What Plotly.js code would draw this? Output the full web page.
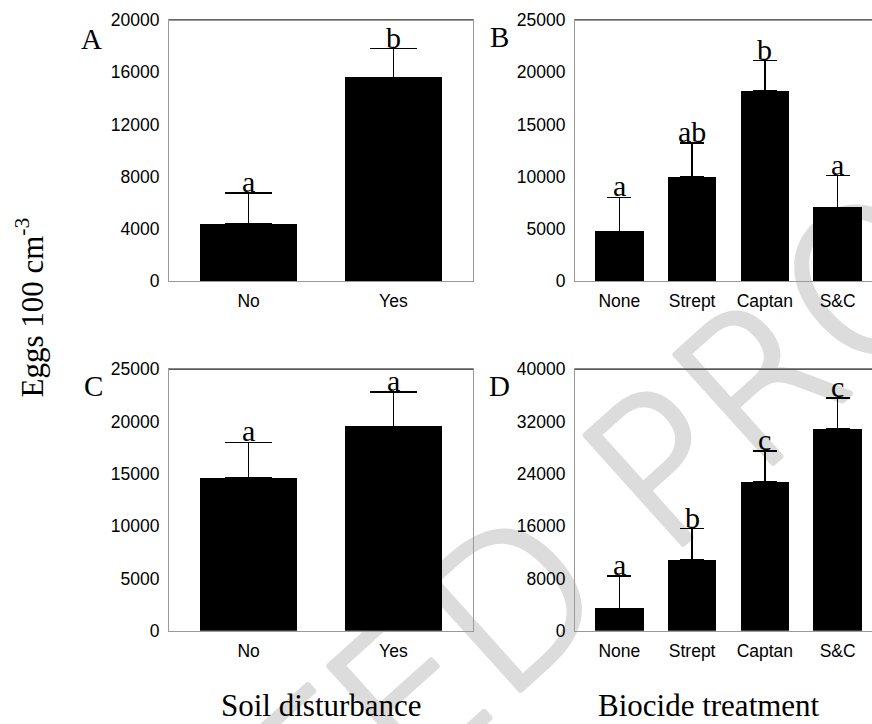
<!DOCTYPE html>
<html>
<head>
<meta charset="utf-8">
<script src="https://cdn.plot.ly/plotly-3.0.1.min.js"></script>
<style>
html, body { margin: 0; padding: 0; overflow: hidden; background: #fff; }
#chart { width: 890px; height: 724px; }
</style>
</head>
<body>
<div id="chart"></div>
<script>
// ---- data ----
const soilCats = ["No", "Yes"];
const biocideCats = ["None", "Strept", "Captan", "S&C"];

const meanA = [4400, 15600];
const seA = [2350, 2200];
const letA = ["a", "b"];

const meanB = [4750, 10000, 18200, 7050];
const seB = [3250, 3200, 2900, 3050];
const letB = ["a", "ab", "b", "a"];

const meanC = [14600, 19550];
const seC = [3400, 3300];
const letC = ["a", "a"];

const meanD = [3400, 10850, 22800, 30900];
const seD = [5000, 4750, 4700, 4700];
const letD = ["a", "b", "c", "c"];

const ticksA = [0, 4000, 8000, 12000, 16000, 20000];
const ticksB = [0, 5000, 10000, 15000, 20000, 25000];
const ticksC = [0, 5000, 10000, 15000, 20000, 25000];
const ticksD = [0, 8000, 16000, 24000, 32000, 40000];

const panelLabels = ["A", "B", "C", "D"];
const yTitle = "Eggs 100 cm<sup>-3</sup>";
const xTitles = ["Soil disturbance", "Biocide treatment"];

// ---- layout helpers ----
const W = 890, H = 724;
const px = x => x / W;
const py = y => 1 - y / H;
const sans = "Liberation Sans, Arial, sans-serif";
const serif = "Liberation Serif, Times New Roman, serif";

function barTrace(cats, means, se, xa, ya, bw, capw) {
  return {
    type: "bar", x: cats, y: means, xaxis: xa, yaxis: ya,
    width: bw,
    marker: { color: "#000", line: { width: 0 } },
    error_y: {
      type: "data", symmetric: false, array: se,
      arrayminus: se.map(() => 0),
      color: "#000", thickness: 1.5, width: capw
    },
    hoverinfo: "none"
  };
}

const data = [
  barTrace(soilCats, meanA, seA, "x", "y", 0.67, 23.5),
  barTrace(biocideCats, meanB, seB, "x2", "y2", 0.665, 12),
  barTrace(soilCats, meanC, seC, "x3", "y3", 0.67, 23.5),
  barTrace(biocideCats, meanD, seD, "x4", "y4", 0.665, 12)
];

function xax(dom, rng) {
  return {
    domain: dom, range: rng, type: "category",
    showline: true, mirror: true, linecolor: "#9a9a9a", linewidth: 1,
    showgrid: false, zeroline: false, ticks: "", fixedrange: true,
    tickfont: { family: sans, size: 17.5, color: "#000" },
    ticklabelstandoff: 4
  };
}
function yax(dom, rng, tv) {
  return {
    domain: dom, range: rng, tickvals: tv, ticktext: tv.map(String),
    showline: true, mirror: true, linecolor: "#9a9a9a", linewidth: 1,
    showgrid: false, zeroline: false, ticks: "", fixedrange: true,
    tickfont: { family: sans, size: 17.5, color: "#000" },
    ticklabelstandoff: 5
  };
}

const topRow = [py(281), py(20)];
const botRow = [py(630.7), py(369.3)];
const leftCol = [px(169), px(473)];
const rightCol = [px(575), px(882)];

const annotations = [];
function letters(cats, means, se, lets, xa, ya) {
  cats.forEach((c, i) => {
    annotations.push({
      x: c, y: means[i] + se[i], xref: xa, yref: ya,
      text: lets[i], showarrow: false, xanchor: "center", yanchor: "bottom",
      yshift: -7, font: { family: serif, size: 30, color: "#000" }
    });
  });
}
letters(soilCats, meanA, seA, letA, "x", "y");
letters(biocideCats, meanB, seB, letB, "x2", "y2");
letters(soilCats, meanC, seC, letC, "x3", "y3");
letters(biocideCats, meanD, seD, letD, "x4", "y4");

const labelPos = [[91, 39], [499.5, 37], [93, 386], [499, 386]];
panelLabels.forEach((t, i) => {
  annotations.push({
    x: px(labelPos[i][0]), y: py(labelPos[i][1]), xref: "paper", yref: "paper",
    text: t, showarrow: false, xanchor: "center", yanchor: "middle",
    font: { family: serif, size: 29, color: "#000" }
  });
});
annotations.push({
  x: px(30), y: py(307.5), xref: "paper", yref: "paper", text: yTitle,
  textangle: -90, showarrow: false, xanchor: "center", yanchor: "middle",
  font: { family: serif, size: 31, color: "#000" }
});
annotations.push({
  x: px(321), y: py(705), xref: "paper", yref: "paper", text: xTitles[0],
  showarrow: false, xanchor: "center", yanchor: "middle",
  font: { family: serif, size: 31, color: "#000" }
});
annotations.push({
  x: px(709), y: py(705), xref: "paper", yref: "paper", text: xTitles[1],
  showarrow: false, xanchor: "center", yanchor: "middle",
  font: { family: serif, size: 31, color: "#000" }
});

const shapes = ["x", "x2", "x3", "x4"].map((xa, i) => ({
  type: "line", xref: xa + " domain", yref: (i === 0 ? "y" : "y" + (i + 1)) + " domain",
  x0: 0, x1: 1, y0: 1, y1: 1, line: { color: "#333", width: 1 }
}));

// watermark (light grey, behind the bars)
const wm = '<svg xmlns="http://www.w3.org/2000/svg" width="872" height="724" viewBox="0 0 872 724">' +
  '<g font-family="DejaVu Sans" font-weight="200" font-size="200" fill="#dcdcdc" stroke="#dcdcdc" stroke-width="6" stroke-linejoin="round">' +
  '<text x="665" y="560" text-anchor="start" transform="rotate(-42 665 560)">PROOF</text>' +
  '<text x="617" y="603" text-anchor="end" transform="rotate(-42 617 603)">UNCORRECTED</text>' +
  '</g></svg>';

const layout = {
  width: W, height: H,
  margin: { l: 0, r: 0, t: 0, b: 0 },
  paper_bgcolor: "#fff", plot_bgcolor: "rgba(0,0,0,0)",
  showlegend: false, bargap: 0,
  xaxis: Object.assign(xax(leftCol, [-0.55, 1.55]), { anchor: "y" }),
  yaxis: Object.assign(yax(topRow, [0, 20000], ticksA), { anchor: "x" }),
  xaxis2: Object.assign(xax(rightCol, [-0.61, 3.61]), { anchor: "y2" }),
  yaxis2: Object.assign(yax(topRow, [0, 25000], ticksB), { anchor: "x2" }),
  xaxis3: Object.assign(xax(leftCol, [-0.55, 1.55]), { anchor: "y3" }),
  yaxis3: Object.assign(yax(botRow, [0, 25000], ticksC), { anchor: "x3" }),
  xaxis4: Object.assign(xax(rightCol, [-0.61, 3.61]), { anchor: "y4" }),
  yaxis4: Object.assign(yax(botRow, [0, 40000], ticksD), { anchor: "x4" }),
  annotations: annotations,
  shapes: shapes,
  images: [{
    source: "data:image/svg+xml;charset=utf-8," + encodeURIComponent(wm),
    xref: "paper", yref: "paper", x: 0, y: 1, sizex: 872 / W, sizey: 1,
    xanchor: "left", yanchor: "top", sizing: "stretch", layer: "below"
  }]
};

Plotly.newPlot("chart", data, layout, { staticPlot: true, displayModeBar: false });
</script>
</body>
</html>
